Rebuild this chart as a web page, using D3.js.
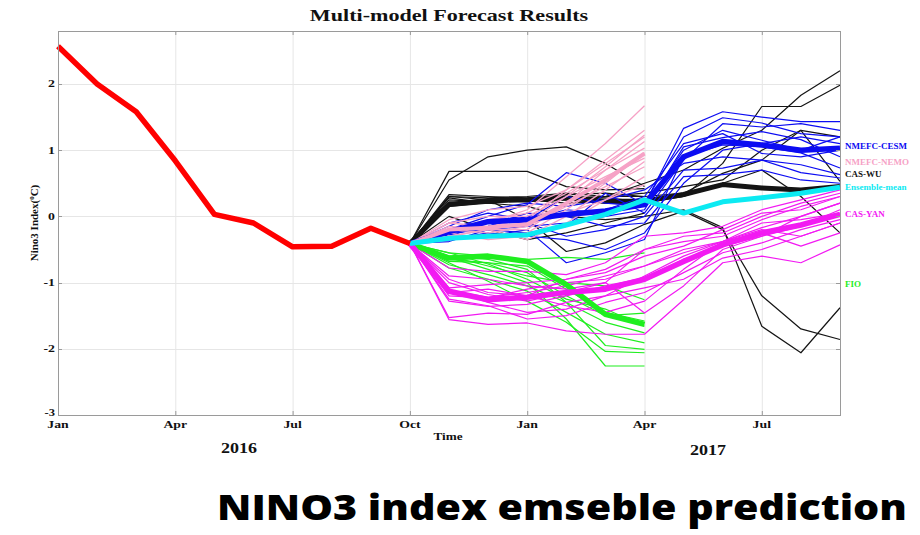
<!DOCTYPE html>
<html>
<head>
<meta charset="utf-8">
<script src="https://cdn.jsdelivr.net/npm/d3@7"></script>
<style>
  body { margin: 0; background: #fff; }
  svg { display: block; }
</style>
</head>
<body>
<svg id="chart" width="920" height="535"></svg>
<script>
// ---- axis definitions (month index 0 = Jan 2016) ----
const xTickMonths = [0, 3, 6, 9, 12, 15, 18];
const xTickLabels = ["Jan", "Apr", "Jul", "Oct", "Jan", "Apr", "Jul"];
const yTicks = [-3, -2, -1, 0, 1, 2];
const yearLabels = ["2016", "2017"];

// ---- observed NINO3 index, Jan–Oct 2016 ----
const observed = [2.57, 2.0, 1.58, 0.84, 0.03, -0.1, -0.46, -0.45, -0.18, -0.41];
const forecastStart = 9; // forecasts start from Oct 2016

// ---- CAS-WU members (black) ----
const casWuMembers = [
  [-0.41, 0.55, 0.90, 1.00, 1.05, 0.80, 0.45],
  [-0.41, 0.68, 0.68, 0.68, 0.45, 0.40, 0.42],
  [-0.41, 0.30, 0.28, 0.30, 0.35, 0.30, 0.50, 0.70, 1.03, 1.30, 1.83, 2.20],
  [-0.41, 0.25, 0.22, 0.25, 0.20, 0.22, 0.25, 0.30, 0.80, 1.66, 1.66, 1.98],
  [-0.41, 0.20, 0.25, 0.22, 0.28, 0.30, 0.30, 0.35, 0.65, 0.85, 1.30, 1.20],
  [-0.41, 0.28, 0.20, 0.25, 0.25, 0.30, 0.35, 0.45, 0.55, 1.00, 1.30, 0.53],
  [-0.41, 0.30, 0.25, -0.05, -0.53, -0.40, -0.12, 0.08, -0.20, -1.20, -1.70, -1.86],
  [-0.41, 0.22, 0.20, 0.15, 0.00, -0.05, 0.00, 0.10, -0.17, -1.66, -2.06, -1.38],
  [-0.41, 0.15, 0.20, 0.25, 0.25, 0.20, 0.20, 0.30, 0.50, 0.70, 0.30, -0.25],
  [-0.41, 0.18, 0.22, 0.25, 0.30, 0.28, 0.22],
  [-0.41, 0.33, 0.30, 0.28, 0.33, 0.35, 0.30],
  [-0.41, 0.00, -0.20, -0.35, -0.25, -0.10, 0.05]
];
const casWuMean = [-0.41, 0.18, 0.24, 0.25, 0.28, 0.23, 0.23, 0.33, 0.48, 0.43, 0.40, 0.45];

// ---- NMEFC-CESM members (blue) ----
const cesmMembers = [
  [-0.41, -0.20, 0.00, 0.18, 0.66, 0.50, 0.18, 1.33, 1.58, 1.50, 1.43, 1.43],
  [-0.41, -0.30, -0.10, -0.05, 0.10, 0.05, 0.20, 1.20, 1.49, 1.41, 1.25, 1.20],
  [-0.41, -0.25, -0.20, -0.15, -0.10, 0.00, 0.10, 1.05, 1.19, 1.28, 1.16, 0.90],
  [-0.41, -0.35, -0.30, -0.20, -0.70, -0.55, -0.35, 0.90, 1.08, 1.05, 0.96, 0.73],
  [-0.41, -0.15, 0.10, 0.20, 0.15, 0.25, 0.40, 0.80, 0.90, 0.85, 0.78, 0.63],
  [-0.41, -0.30, -0.05, -0.10, -0.30, -0.20, 0.00, 0.70, 0.73, 0.85, 0.66, 0.58],
  [-0.41, -0.20, -0.15, 0.05, 0.00, -0.15, -0.10, 0.60, 0.63, 0.70, 0.55, 0.50],
  [-0.41, -0.10, 0.05, -0.05, 0.30, 0.20, 0.15, 1.00, 1.30, 1.15, 1.00, 1.20],
  [-0.41, -0.35, -0.25, -0.30, -0.35, -0.50, -0.25, 0.50, 1.00, 1.10, 1.20, 1.10],
  [-0.41, -0.28, -0.15, 0.00, 0.05, 0.10, 0.30, 1.10, 1.25, 0.95, 0.90, 1.00],
  [-0.41, -0.38, -0.20, -0.25, -0.15, 0.35, 0.05, 0.85, 1.40, 1.35, 1.40, 1.30]
];
const cesmMean = [-0.41, -0.23, -0.08, -0.05, 0.03, 0.08, 0.18, 0.90, 1.13, 1.08, 1.00, 1.03];

// ---- NMEFC-NEMO members (pink), Oct–Apr ----
const nemoMembers = [
  [-0.41, -0.20, -0.10, 0.10, 0.60, 1.10, 1.67],
  [-0.41, -0.25, -0.15, -0.05, 0.40, 0.85, 1.30],
  [-0.41, -0.30, -0.20, -0.10, 0.30, 0.75, 1.23],
  [-0.41, -0.15, -0.20, -0.20, 0.20, 0.70, 1.13],
  [-0.41, -0.20, -0.05, 0.05, 0.35, 0.70, 1.03],
  [-0.41, -0.30, -0.30, -0.25, 0.10, 0.50, 0.96],
  [-0.41, -0.10, 0.00, 0.00, 0.30, 0.60, 0.88],
  [-0.41, -0.25, -0.35, -0.30, 0.00, 0.40, 0.83],
  [-0.41, -0.20, -0.25, -0.15, 0.15, 0.45, 0.75],
  [-0.41, -0.30, -0.20, -0.35, -0.10, 0.25, 0.60],
  [-0.41, -0.10, -0.15, -0.10, 0.05, 0.25, 0.48],
  [-0.41, -0.05, 0.10, 0.15, 0.40, 0.80, 1.20]
];
const nemoMean = [-0.41, -0.20, -0.17, -0.12, 0.20, 0.55, 0.95];

// ---- FIO members (green), Oct–Apr ----
const fioMembers = [
  [-0.41, -0.55, -0.60, -0.65, -0.62, -0.65, -0.55],
  [-0.41, -0.60, -0.75, -0.90, -1.00, -1.05, -1.26],
  [-0.41, -0.68, -0.70, -0.85, -1.20, -1.50, -1.46],
  [-0.41, -0.65, -0.70, -0.75, -1.10, -1.45, -1.58],
  [-0.41, -0.73, -0.88, -1.05, -1.30, -1.60, -1.76],
  [-0.41, -0.78, -0.95, -1.13, -1.45, -1.78, -1.91],
  [-0.41, -0.60, -0.65, -0.80, -1.30, -1.95, -2.01],
  [-0.41, -0.70, -0.98, -1.28, -1.60, -2.04, -2.06],
  [-0.41, -0.62, -0.80, -1.00, -1.55, -2.26, -2.26],
  [-0.41, -0.55, -0.72, -0.95, -1.25, -1.40, -1.66]
];
const fioMean = [-0.41, -0.63, -0.60, -0.68, -1.03, -1.48, -1.63];

// ---- CAS-YAN members (magenta) ----
const yanMembers = [
  [-0.41, -0.78, -0.83, -0.83, -0.88, -0.70, -0.30, -0.25, -0.15, 0.10, 0.25, 0.40],
  [-0.41, -1.08, -1.03, -1.00, -0.95, -0.80, -0.50, -0.38, -0.30, -0.05, 0.15, 0.30],
  [-0.41, -1.20, -1.23, -1.10, -1.00, -0.95, -0.75, -0.50, -0.38, -0.17, 0.00, 0.20],
  [-0.41, -1.28, -1.36, -1.33, -1.20, -1.05, -0.93, -0.65, -0.45, -0.30, -0.15, 0.10],
  [-0.41, -1.53, -1.46, -1.48, -1.30, -1.20, -1.08, -0.95, -0.63, -0.50, -0.30, -0.10],
  [-0.41, -1.56, -1.63, -1.61, -1.73, -1.78, -1.78, -1.26, -0.70, -0.60, -0.70, -0.43],
  [-0.41, -1.15, -1.10, -1.20, -1.35, -1.45, -1.28, -0.80, -0.38, -0.25, -0.45, -0.25],
  [-0.41, -1.00, -1.18, -1.28, -1.15, -1.00, -1.46, -1.05, -0.50, -0.30, 0.00, 0.20],
  [-0.41, -1.10, -1.30, -1.45, -1.40, -1.20, -0.90, -0.60, -0.38, -0.10, -0.05, 0.05],
  [-0.41, -0.95, -1.15, -1.20, -0.95, -0.85, -0.60, -0.45, -0.20, 0.05, 0.10, 0.30],
  [-0.41, -1.25, -1.35, -1.55, -1.50, -1.30, -1.15, -0.85, -0.55, -0.40, -0.20, -0.05],
  [-0.41, -1.12, -1.22, -1.15, -1.05, -0.90, -0.75, -0.55, -0.38, -0.20, -0.30, -0.10],
  [-0.41, -0.90, -0.95, -1.05, -1.10, -1.00, -0.50, -0.30, -0.25, 0.00, 0.20, 0.35]
];
const yanMean = [-0.41, -1.13, -1.26, -1.22, -1.15, -1.10, -0.95, -0.68, -0.43, -0.25, -0.13, 0.03];

// ---- multi-model ensemble mean (cyan) ----
const ensembleMean = [-0.41, -0.33, -0.30, -0.28, -0.13, 0.03, 0.25, 0.05, 0.22, 0.28, 0.35, 0.44];

// ---- model labels at the right edge ----
const legendNames = ["NMEFC-CESM", "NMEFC-NEMO", "CAS-WU", "Ensemble-mean", "CAS-YAN", "FIO"];
const legendY = [146, 161.5, 174, 186.5, 214, 284];

const COL = {
  red: "#ff0000", black: "#141414", blue: "#0c0cf2", pink: "#f6a2c6",
  green: "#1fee1f", magenta: "#f21af2", cyan: "#0ceaf2"
};
const SERIF = "'Liberation Serif','Times New Roman',Times,serif";

const svg = d3.select("#chart");
const margin = { left: 58, right: 840, top: 31, bottom: 415 };

const x = d3.scaleLinear().domain([0, 20]).range([margin.left, margin.right]);
const y = d3.scaleLinear().domain([-3, 2.8]).range([margin.bottom, margin.top]);

// widen a text selection horizontally by factor k
function stretch(sel, k) {
  sel.each(function () {
    const w = this.getComputedTextLength();
    this.setAttribute("textLength", (w * k).toFixed(1));
    this.setAttribute("lengthAdjust", "spacingAndGlyphs");
  });
  return sel;
}

// ---- grid ----
const grid = svg.append("g").attr("stroke", "#e6e6e6").attr("stroke-width", 1);
grid.selectAll("line.gx").data(xTickMonths.slice(1)).join("line")
  .attr("x1", d => x(d) + 0.5).attr("x2", d => x(d) + 0.5)
  .attr("y1", margin.top).attr("y2", margin.bottom);
grid.selectAll("line.gy").data(yTicks.slice(1)).join("line")
  .attr("x1", margin.left).attr("x2", margin.right)
  .attr("y1", d => Math.round(y(d)) + 0.5).attr("y2", d => Math.round(y(d)) + 0.5);

// ---- series ----
const plot = svg.append("g");
const lineFrom = start => d3.line()
  .x((d, i) => x(start + i))
  .y(d => y(d))
  .curve(d3.curveLinear);

function drawGroup(members, color, width) {
  plot.append("g").selectAll("path").data(members).join("path")
    .attr("d", lineFrom(forecastStart))
    .attr("fill", "none").attr("stroke", color)
    .attr("stroke-width", width).attr("stroke-linejoin", "round");
}
function drawLine(values, color, width, start) {
  plot.append("path").datum(values)
    .attr("d", lineFrom(start))
    .attr("fill", "none").attr("stroke", color)
    .attr("stroke-width", width).attr("stroke-linejoin", "round");
}

drawGroup(casWuMembers, COL.black, 1.2);
drawLine(casWuMean, COL.black, 5, forecastStart);
drawGroup(cesmMembers, COL.blue, 1.2);
drawGroup(nemoMembers, COL.pink, 1.3);
drawGroup(fioMembers, COL.green, 1.2);
drawGroup(yanMembers, COL.magenta, 1.2);
drawLine(cesmMean, COL.blue, 5.5, forecastStart);
drawLine(nemoMean, COL.pink, 4, forecastStart);
drawLine(fioMean, COL.green, 5.5, forecastStart);
drawLine(yanMean, COL.magenta, 5.5, forecastStart);
drawLine(ensembleMean, COL.cyan, 5, forecastStart);
drawLine(observed, COL.red, 5.5, 0);

// ---- axes box and ticks ----
const axes = svg.append("g").attr("stroke", "#9a9a9a").attr("stroke-width", 1).attr("fill", "none");
axes.append("rect")
  .attr("x", margin.left + 0.5).attr("y", margin.top + 0.5)
  .attr("width", margin.right - margin.left).attr("height", margin.bottom - margin.top);
const tk = 4;
xTickMonths.forEach(m => {
  const px = x(m) + 0.5;
  axes.append("line").attr("x1", px).attr("x2", px).attr("y1", margin.bottom).attr("y2", margin.bottom - tk);
  axes.append("line").attr("x1", px).attr("x2", px).attr("y1", margin.top).attr("y2", margin.top + tk);
});
yTicks.forEach(v => {
  const py = Math.round(y(v)) + 0.5;
  axes.append("line").attr("x1", margin.left).attr("x2", margin.left + tk).attr("y1", py).attr("y2", py);
  axes.append("line").attr("x1", margin.right).attr("x2", margin.right - tk).attr("y1", py).attr("y2", py);
});

// ---- tick labels ----
const txt = svg.append("g").attr("font-family", SERIF).attr("font-weight", "bold").attr("fill", "#111");
stretch(txt.selectAll("text.xl").data(xTickMonths).join("text")
  .attr("x", d => x(d)).attr("y", 428)
  .attr("text-anchor", "middle").attr("font-size", 11)
  .text((d, i) => xTickLabels[i]), 1.25);
stretch(txt.selectAll("text.yl").data(yTicks).join("text")
  .attr("x", 55).attr("y", d => y(d) + (d === -3 ? 1 : 3.5))
  .attr("text-anchor", "end").attr("font-size", d => d === -3 ? 10 : 11)
  .text(d => d), 1.25);

// year labels and axis titles
stretch(txt.append("text").attr("x", 239).attr("y", 453).attr("text-anchor", "middle")
  .attr("font-size", 15).text(yearLabels[0]), 1.2);
stretch(txt.append("text").attr("x", 708).attr("y", 455).attr("text-anchor", "middle")
  .attr("font-size", 15).text(yearLabels[1]), 1.2);
stretch(txt.append("text").attr("x", 448).attr("y", 440).attr("text-anchor", "middle")
  .attr("font-size", 11).text("Time"), 1.2);

const yLab = txt.append("text")
  .attr("transform", "translate(38,223) rotate(-90)")
  .attr("text-anchor", "middle").attr("font-size", 11);
yLab.append("tspan").text("Nino3 Index(");
yLab.append("tspan").attr("font-size", 7).attr("dy", -4).text("0");
yLab.append("tspan").attr("dy", 4).text("C)");

// chart title
stretch(txt.append("text").attr("x", 449).attr("y", 21).attr("text-anchor", "middle")
  .attr("font-size", 17).text("Multi-model Forecast Results"), 1.3);

// ---- model labels ----
const legendColors = [COL.blue, COL.pink, COL.black, COL.cyan, COL.magenta, COL.green];
svg.append("g").selectAll("text").data(legendNames).join("text")
  .attr("x", 845).attr("y", (d, i) => legendY[i] + 3)
  .attr("font-family", SERIF).attr("font-weight", "bold").attr("font-size", 9)
  .attr("fill", (d, i) => legendColors[i])
  .text(d => d);

// ---- caption ----
svg.append("text")
  .attr("x", 562).attr("y", 520).attr("text-anchor", "middle")
  .attr("font-family", "'Open Sans','Noto Sans',sans-serif").attr("font-weight", 800)
  .attr("font-size", 35).attr("fill", "#000")
  .attr("textLength", 690).attr("lengthAdjust", "spacingAndGlyphs")
  .text("NINO3 index emseble prediction");
</script>
</body>
</html>
